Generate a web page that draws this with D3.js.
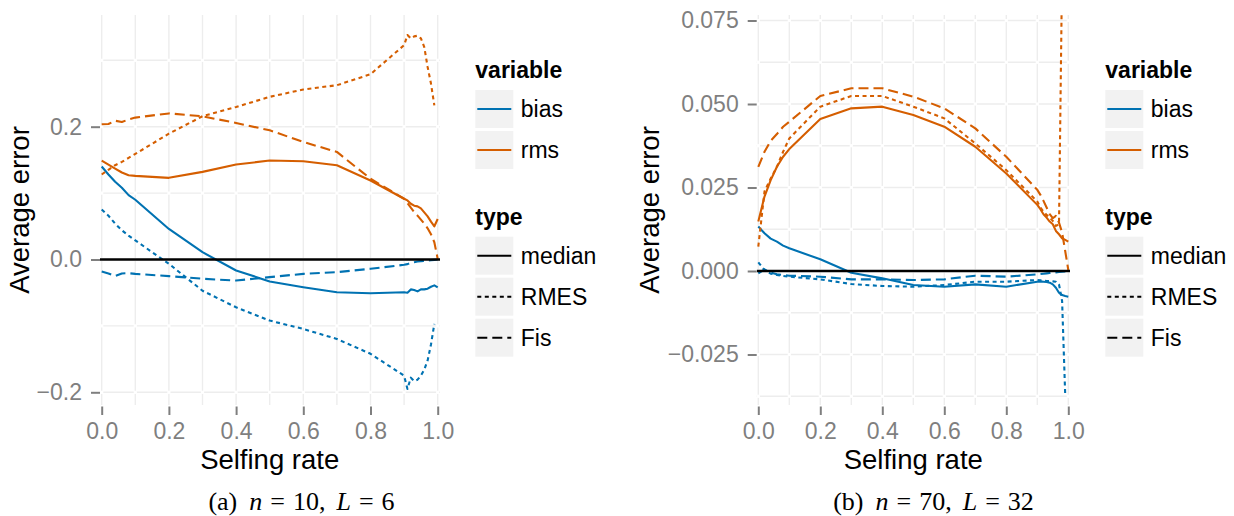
<!DOCTYPE html>
<html><head><meta charset="utf-8">
<script src="https://cdn.jsdelivr.net/npm/d3@7"></script>
<style>body{margin:0;background:#fff} svg{display:block}</style>
</head><body>
<svg id="chart" width="1234" height="516"></svg>
<script>
// ---------------- data ----------------
const selfing = [0, 0.02, 0.04, 0.06, 0.08, 0.1, 0.2, 0.3, 0.4, 0.5, 0.6, 0.7, 0.8, 0.9,
                 0.91, 0.92, 0.93, 0.94, 0.95, 0.96, 0.97, 0.98, 0.99, 1.0];

// panel (a): n = 10, L = 6
const aBiasMedian = [0.140,0.128,0.117,0.108,0.097,0.090,0.046,0.011,-0.0166,-0.033,-0.0417,-0.0493,-0.0508,-0.0493,-0.050,-0.045,-0.046,-0.048,-0.045,-0.045,-0.044,-0.041,-0.039,-0.042];
const aBiasRmes   = [0.0754,0.066,0.054,0.044,0.036,0.0287,-0.0065,-0.047,-0.072,-0.092,-0.1046,-0.1197,-0.142,-0.175,-0.195,-0.178,-0.183,-0.181,-0.175,-0.166,-0.152,-0.128,-0.097,null];
const aBiasFis    = [-0.018,-0.021,-0.025,-0.021,-0.0206,-0.0216,-0.025,-0.029,-0.0317,-0.0266,-0.0216,-0.019,-0.014,-0.008,-0.007,-0.005,-0.004,-0.003,-0.0025,-0.002,-0.0015,-0.001,-0.0005,0.0];
const aRmsMedian  = [0.149,0.143,0.137,0.131,0.127,0.126,0.123,0.132,0.143,0.149,0.148,0.142,0.119,0.0915,0.089,0.084,0.081,0.080,0.077,0.071,0.065,0.057,0.050,0.061];
const aRmsRmes    = [0.128,0.135,0.142,0.147,0.153,0.159,0.1895,0.2157,0.2297,0.245,0.256,0.2625,0.279,0.3228,0.338,0.333,0.336,0.337,0.333,0.320,0.290,0.265,0.232,null];
const aRmsFis     = [0.2036,0.204,0.209,0.207,0.211,0.2137,0.220,0.2157,0.2056,0.1946,0.177,0.162,0.1217,0.0915,0.085,0.078,0.0714,0.066,0.060,0.054,0.047,0.038,0.026,0.001];

// panel (b): n = 70, L = 32
const bBiasMedian = [0.0133,0.0113,0.0097,0.0088,0.0076,0.0068,0.0035,-0.0005,-0.0022,-0.0042,-0.0047,-0.004,-0.0047,-0.0032,-0.0031,-0.0032,-0.0033,-0.0035,-0.004,-0.005,-0.0065,-0.0072,-0.0075,-0.0077];
const bBiasRmes   = [0.0026,0.0003,-0.0008,-0.0012,-0.0015,-0.0017,-0.0025,-0.0039,-0.0045,-0.0047,-0.0042,-0.0032,-0.0032,-0.0027,-0.0028,-0.0029,-0.003,-0.003,-0.0031,-0.0032,-0.004,-0.009,-0.037,null];
const bBiasFis    = [-0.0007,0.0005,-0.0005,-0.001,-0.0012,-0.0014,-0.0017,-0.0025,-0.0025,-0.0027,-0.0025,-0.0014,-0.0017,-0.001,-0.0009,-0.0008,-0.0007,-0.0006,-0.0005,-0.0004,-0.0003,-0.0002,-0.0001,0];
const bRmsMedian  = [0.0148,0.0223,0.0272,0.0312,0.0342,0.0365,0.0455,0.0487,0.0492,0.0467,0.0432,0.0372,0.0292,0.0198,0.0185,0.017,0.016,0.0148,0.014,0.012,0.011,0.0098,0.0093,0.0088];
const bRmsRmes    = [0.0073,0.0238,0.0277,0.0312,0.0357,0.0397,0.0492,0.0524,0.0524,0.0492,0.0457,0.0382,0.0302,0.0208,0.019,0.0178,0.0168,0.016,0.015,0.0135,0.014,0.09,null,null];
const bRmsFis     = [0.0312,0.0357,0.039,0.041,0.0432,0.0447,0.0524,0.0547,0.0547,0.0522,0.0487,0.0427,0.0342,0.0243,0.0228,0.021,0.019,0.017,0.0158,0.0165,0.0145,0.0115,0.006,0.0003];

const variables = ["bias", "rms"];
const types = ["median", "RMES", "Fis"];
const xTicks = [0, 0.2, 0.4, 0.6, 0.8, 1.0];
const aYTicks = [-0.2, 0, 0.2];
const bYTicks = [-0.025, 0, 0.025, 0.05, 0.075];

// ---------------- style ----------------
const FONT = '"Liberation Sans", Arial, Helvetica, sans-serif';
const SERIF = '"Liberation Serif", "Times New Roman", serif';
const colors = {bias: "#0072B2", rms: "#D55E00"};
const dashes = {median: null, RMES: "4,3.5", Fis: "10,5"};
const GRAY = "#7F7F7F";
const GRID = "#EDEDED";

const svg = d3.select("#chart");

function drawPanel(cfg) {
  const g = svg.append("g");
  const x = d3.scaleLinear().domain([0, 1]).range(cfg.xr);
  const y = d3.scaleLinear().domain(cfg.yd).range(cfg.yr);
  const [px0, px1] = cfg.px, py0 = 15, py1 = 405;

  // grid
  const gx = d3.range(0, 11).map(k => k / 10);
  const gy = cfg.gridY.filter(v => y(v) >= py0 - 0.5 && y(v) <= py1 + 0.5);
  const grid = g.append("g");
  grid.selectAll("line.v").data(gx).join("line")
    .attr("x1", d => x(d)).attr("x2", d => x(d)).attr("y1", py0).attr("y2", py1)
    .attr("stroke", GRID).attr("stroke-width", 1.4);
  grid.selectAll("line.h").data(gy).join("line").attr("class", "h")
    .attr("x1", px0).attr("x2", px1).attr("y1", d => y(d)).attr("y2", d => y(d))
    .attr("stroke", GRID).attr("stroke-width", 1.4);
  const cross = [];
  gx.forEach(a => gy.forEach(b => cross.push([a, b])));
  grid.selectAll("rect.c").data(cross).join("rect")
    .attr("x", d => x(d[0]) - 1.6).attr("y", d => y(d[1]) - 1.6)
    .attr("width", 3.2).attr("height", 3.2).attr("fill", "#fff");

  // clip
  const cid = "clip" + cfg.id;
  svg.append("clipPath").attr("id", cid).append("rect")
    .attr("x", px0).attr("y", py0).attr("width", px1 - px0).attr("height", py1 - py0);

  const line = d3.line()
    .defined(d => d[1] !== null)
    .x(d => x(d[0])).y(d => y(d[1]));

  const lines = g.append("g").attr("clip-path", `url(#${cid})`);
  cfg.series.forEach(s => {
    const pts = selfing.map((v, i) => [v, s.values[i]]);
    lines.append("path").attr("d", line(pts))
      .attr("fill", "none").attr("stroke", colors[s.variable])
      .attr("stroke-width", 2.1)
      .attr("stroke-dasharray", dashes[s.type])
      .attr("stroke-linejoin", "round");
  });
  // median reference line (hline at 0)
  lines.append("line").attr("x1", px0).attr("x2", px1)
    .attr("y1", y(0)).attr("y2", y(0)).attr("stroke", "#000").attr("stroke-width", 2.4);

  // y axis
  const ya = g.append("g").attr("transform", `translate(${px0},0)`)
    .call(d3.axisLeft(y).tickValues(cfg.yTicks).tickSize(9).tickPadding(9).tickFormat(cfg.fmt));
  ya.select(".domain").remove();
  ya.selectAll(".tick line").attr("stroke", GRAY).attr("stroke-width", 2);
  ya.selectAll(".tick text").attr("fill", GRAY).style("font-family", FONT).style("font-size", "23px");

  // x axis
  const xa = g.append("g").attr("transform", `translate(0,${py1 + 1.5})`)
    .call(d3.axisBottom(x).tickValues(xTicks).tickSize(8.5).tickFormat(d3.format(".1f")));
  xa.select(".domain").remove();
  xa.selectAll(".tick line").attr("stroke", GRAY).attr("stroke-width", 2);
  xa.selectAll(".tick text").attr("fill", GRAY).attr("y", 32).attr("dy", 0)
    .style("font-family", FONT).style("font-size", "23px");

  // axis titles
  g.append("text").attr("x", (cfg.xr[0] + cfg.xr[1]) / 2).attr("y", 468.5)
    .attr("text-anchor", "middle").style("font-family", FONT).style("font-size", "27.5px")
    .attr("fill", "#000").text("Selfing rate");
  g.append("text").attr("transform", `translate(${cfg.ytx},${(py0 + py1) / 2}) rotate(-90)`)
    .attr("text-anchor", "middle").style("font-family", FONT).style("font-size", "27.5px")
    .attr("fill", "#000").text("Average error");

  // legends
  const lg = g.append("g").attr("transform", `translate(${cfg.lx},0)`);
  const KEY = 38;
  function legendBlock(title, titleY, items, keyY0, strokeFn, dashFn) {
    lg.append("text").attr("x", 0).attr("y", titleY).text(title)
      .style("font-family", FONT).style("font-size", "23px").style("font-weight", "bold");
    items.forEach((it, i) => {
      const ky = keyY0 + i * 41;
      lg.append("rect").attr("x", 0).attr("y", ky).attr("width", KEY).attr("height", KEY).attr("fill", "#F2F2F2");
      lg.append("line").attr("x1", 2).attr("x2", KEY - 2).attr("y1", ky + KEY / 2).attr("y2", ky + KEY / 2)
        .attr("stroke", strokeFn(it)).attr("stroke-width", 2.1).attr("stroke-dasharray", dashFn(it));
      lg.append("text").attr("x", KEY + 7.5).attr("y", ky + KEY / 2 + 8.3).text(it)
        .style("font-family", FONT).style("font-size", "23px");
    });
  }
  legendBlock("variable", 78, variables, 90, v => colors[v], () => null);
  legendBlock("type", 225, types, 236.7, () => "#000", t => dashes[t]);

  // caption
  const cap = svg.append("text").attr("x", cfg.capX).attr("y", 510)
    .attr("text-anchor", "middle").style("font-family", SERIF).style("font-size", "26px").attr("fill", "#000");
  cfg.caption.forEach(t => {
    const ts = cap.append("tspan").text(t.s);
    if (t.dx) ts.attr("dx", t.dx);
    if (t.i) ts.style("font-style", "italic");
  });
}

drawPanel({
  id: "a", xr: [101.7, 437.7], px: [100, 440],
  yd: [-0.2, 0.2], yr: [392.3, 126.7],
  gridY: d3.range(-3, 4).map(k => k / 10),
  yTicks: aYTicks, fmt: d3.format(".1f"), ytx: 28.5, lx: 475.3, capX: 301.5,
  series: [
    {variable: "bias", type: "median", values: aBiasMedian},
    {variable: "bias", type: "RMES", values: aBiasRmes},
    {variable: "bias", type: "Fis", values: aBiasFis},
    {variable: "rms", type: "median", values: aRmsMedian},
    {variable: "rms", type: "RMES", values: aRmsRmes},
    {variable: "rms", type: "Fis", values: aRmsFis}
  ],
  caption: [{s: "(a)"}, {s: "n", i: true, dx: 12}, {s: "=", dx: 8}, {s: "10", dx: 8}, {s: ","},
            {s: "L", i: true, dx: 11}, {s: "=", dx: 8}, {s: "6", dx: 8}]
});

drawPanel({
  id: "b", xr: [758.3, 1068.3], px: [756.7, 1070],
  yd: [-0.025, 0.075], yr: [354.5, 20.5],
  gridY: d3.range(-3, 7).map(k => k * 0.0125),
  yTicks: bYTicks, fmt: d3.format(".3f"), ytx: 658.5, lx: 1105.3, capX: 933.5,
  series: [
    {variable: "bias", type: "median", values: bBiasMedian},
    {variable: "bias", type: "RMES", values: bBiasRmes},
    {variable: "bias", type: "Fis", values: bBiasFis},
    {variable: "rms", type: "median", values: bRmsMedian},
    {variable: "rms", type: "RMES", values: bRmsRmes},
    {variable: "rms", type: "Fis", values: bRmsFis}
  ],
  caption: [{s: "(b)"}, {s: "n", i: true, dx: 12}, {s: "=", dx: 8}, {s: "70", dx: 8}, {s: ","},
            {s: "L", i: true, dx: 11}, {s: "=", dx: 8}, {s: "32", dx: 8}]
});
</script>
</body></html>
